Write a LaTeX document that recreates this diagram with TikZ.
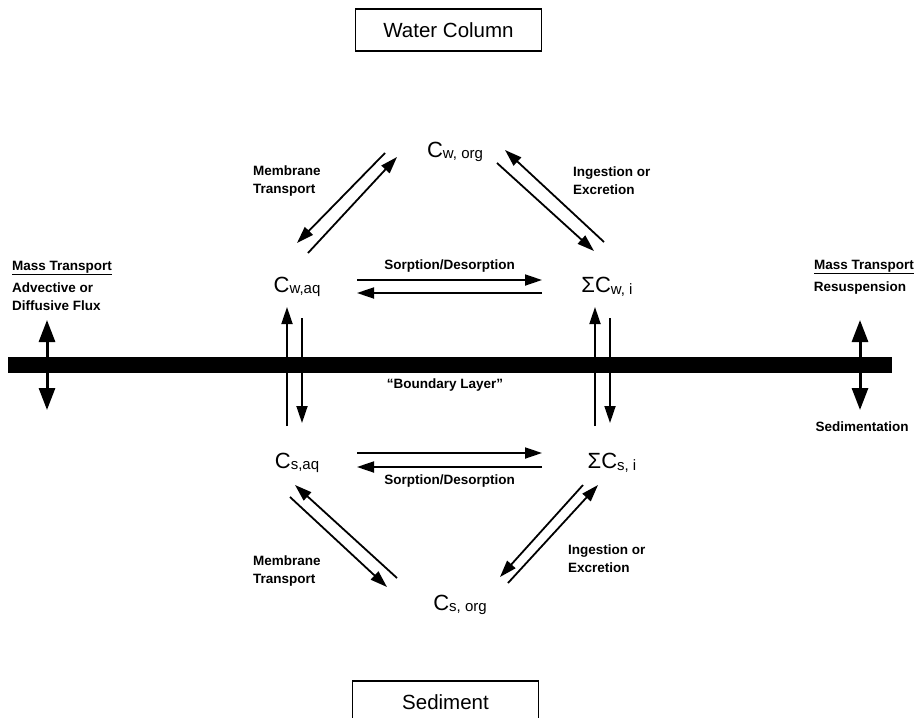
\documentclass[tikz,border=0pt]{standalone}
\usepackage{fontspec}
\setmainfont{Liberation Sans}
\usetikzlibrary{arrows.meta}
\newcommand{\cname}[2]{{\fontsize{22}{24}\selectfont #1C}\raisebox{-1.5pt}{\fontsize{15}{17}\selectfont #2}}
\begin{document}
\begin{tikzpicture}[x=1pt,y=-1pt,
    conc/.style={inner sep=1pt},
    lbl/.style={font=\fontsize{13.5}{18}\selectfont\bfseries,align=left,inner sep=0pt},
    compartment/.style={draw,line width=1.5pt,minimum width=186pt,minimum height=42pt,
      font=\fontsize{20.5}{24}\selectfont},
    flow/.style={line width=1.8pt,-{Triangle[length=17pt,width=11pt]}},
    flux/.style={line width=3pt,{Triangle[length=22pt,width=16pt]}-{Triangle[length=22pt,width=16pt]}}]
  \useasboundingbox (0,0) rectangle (919,718);
  %% compartments
  \node[compartment] (wcol) at (448.5,30) {Water Column};
  \node[compartment] (sed) at (445.5,702) {Sediment};
  %% concentrations
  \node[conc] (worg) at (455,152) {\cname{}{w, org}};
  \node[conc] (waq) at (297,287) {\cname{}{w,aq}};
  \node[conc] (wi) at (607,287) {\cname{Σ}{w, i}};
  \node[conc] (saq) at (297,463) {\cname{}{s,aq}};
  \node[conc] (si) at (612,463) {\cname{Σ}{s, i}};
  \node[conc] (sorg) at (460,605) {\cname{}{s, org}};
  %% boundary layer
  \coordinate (bl) at (8,365);
  \coordinate (br) at (892,365);
  \draw[line width=16pt] (bl) -- (br);
  \node[lbl] (layer) at (445,385) {``Boundary Layer''};
  %% mass transport
  \coordinate (lup) at (47,320);
  \coordinate (ldn) at (47,410);
  \coordinate (rup) at (860,320);
  \coordinate (rdn) at (860,410);
  \draw[flux] (lup) -- (ldn);
  \draw[flux] (rup) -- (rdn);
  \node[lbl,anchor=west] (lmass) at (12,268) {\underline{Mass Transport}};
  \node[lbl,anchor=west] (lflux) at (12,297) {Advective or\\Diffusive Flux};
  \node[lbl] (rmass) at (864,267) {\underline{Mass Transport}};
  \node[lbl] (resus) at (860,288) {Resuspension};
  \node[lbl] (sedim) at (862,427) {Sedimentation};
  %% water column
  \draw[flow] ([shift={(-70,1)}]worg.center) -- ([shift={(0,-44)}]waq.center);
  \draw[flow] ([shift={(11,-34)}]waq.center) -- ([shift={(-58,5)}]worg.center);
  \draw[flow] ([shift={(-3,-45)}]wi.center) -- ([shift={(50,-2)}]worg.center);
  \draw[flow] ([shift={(42,11)}]worg.center) -- ([shift={(-13,-36)}]wi.center);
  \draw[flow] ([shift={(60,-7)}]waq.center) -- ([shift={(-65,-7)}]wi.center)
    node[lbl,midway,above=7pt] (wsorp) {Sorption/Desorption};
  \draw[flow] ([shift={(-65,6)}]wi.center) -- ([shift={(60,6)}]waq.center);
  \node[lbl,anchor=west] (wmem) at (253,181) {Membrane\\Transport};
  \node[lbl,anchor=west] (wing) at (573,181) {Ingestion or\\Excretion};
  %% across the boundary
  \draw[flow] ([shift={(-10,-37)}]saq.center) -- ([shift={(-10,20)}]waq.center);
  \draw[flow] ([shift={(5,31)}]waq.center) -- ([shift={(5,-40)}]saq.center);
  \draw[flow] ([shift={(-17,-37)}]si.center) -- ([shift={(-12,20)}]wi.center);
  \draw[flow] ([shift={(3,31)}]wi.center) -- ([shift={(-2,-40)}]si.center);
  %% sediment
  \draw[flow] ([shift={(60,-10)}]saq.center) -- ([shift={(-70,-10)}]si.center);
  \draw[flow] ([shift={(-70,4)}]si.center) -- ([shift={(60,4)}]saq.center)
    node[lbl,midway,below=7pt] (ssorp) {Sorption/Desorption};
  \draw[flow] ([shift={(-63,-27)}]sorg.center) -- ([shift={(-2,22)}]saq.center);
  \draw[flow] ([shift={(-7,34)}]saq.center) -- ([shift={(-73,-18)}]sorg.center);
  \draw[flow] ([shift={(-29,22)}]si.center) -- ([shift={(40,-28)}]sorg.center);
  \draw[flow] ([shift={(48,-22)}]sorg.center) -- ([shift={(-14,22)}]si.center);
  \node[lbl,anchor=west] (smem) at (253,571) {Membrane\\Transport};
  \node[lbl,anchor=west] (sing) at (568,559) {Ingestion or\\Excretion};
\end{tikzpicture}
\end{document}
